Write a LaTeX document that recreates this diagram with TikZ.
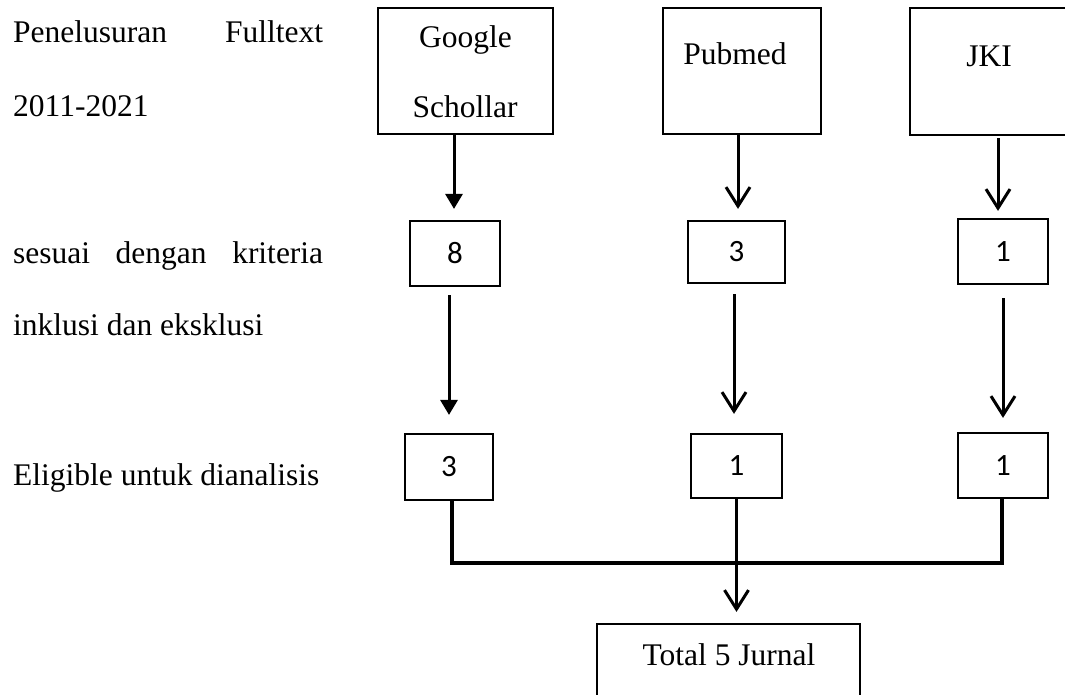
\documentclass[tikz,border=0pt]{standalone}
\usepackage{fontspec}
\setmainfont{Liberation Serif}
\newfontfamily\numfont{Carlito}
\usetikzlibrary{arrows.meta}
\begin{document}
\begin{tikzpicture}[x=1pt,y=-1pt,
  box/.style={draw, line width=2.2pt, inner sep=0pt, rectangle},
  numbox/.style={box, font=\numfont\fontsize{31}{36}\selectfont},
  lbl/.style={inner sep=0pt, font=\fontsize{31.5}{38}\selectfont},
  conn/.style={line width=3pt},
  tri/.style={conn, -{Triangle[length=15pt,width=17pt]}},
  barb/.style={conn, -{Straight Barb[length=19pt,width=24pt]}},
]
\useasboundingbox (0,0) rectangle (1065,695);
\clip (0,0) rectangle (1065,695);
\fill[white] (0,0) rectangle (1065,695);

% left labels
\node[lbl,anchor=base west] (t1) at (13,43) {\makebox[310pt][s]{Penelusuran Fulltext}};
\node[lbl,anchor=base west] (t2) at (13,117) {2011-2021};
\node[lbl,anchor=base west] (t3) at (13,263) {\makebox[310pt][s]{sesuai dengan kriteria}};
\node[lbl,anchor=base west] (t4) at (13,335) {inklusi dan eksklusi};
\node[lbl,anchor=base west] (t5) at (13,485) {Eligible untuk dianalisis};

% top boxes
\node[box, minimum width=175pt, minimum height=126pt] (gs) at (465.5,71) {};
\node[lbl,anchor=base] (gs1) at (465.5,48) {Google};
\node[lbl,anchor=base] (gs2) at (465,118) {Schollar};
\node[box, minimum width=158pt, minimum height=126pt] (pm) at (742,71) {};
\node[lbl,anchor=base] (pmt) at (735,65) {Pubmed};
\node[box, minimum width=170pt, minimum height=127pt] (jk) at (995,71.5) {};
\node[lbl,anchor=base] (jkt) at (989,67) {JKI};

% second row
\node[numbox, minimum width=90pt, minimum height=65pt] (g8) at (455,253.5) {8};
\node[numbox, minimum width=97pt, minimum height=62pt] (p3) at (736.5,252) {3};
\node[numbox, minimum width=90pt, minimum height=65pt] (j1) at (1003,251.5) {1};

% third row
\node[numbox, minimum width=88pt, minimum height=66pt] (g3) at (449,467) {3};
\node[numbox, minimum width=91pt, minimum height=64pt] (p1) at (736.5,466) {1};
\node[numbox, minimum width=90pt, minimum height=65pt] (j1b) at (1003,465.5) {1};

% total
\node[box, minimum width=263pt, minimum height=86pt] (tot) at (728.5,667) {};
\node[lbl,anchor=base] (tott) at (729,665) {Total 5 Jurnal};

% arrows row 1 -> row 2
\draw[tri] ([xshift=-1pt]g8.north |- gs.south) -- ([xshift=-1pt,yshift=11pt]g8.north);
\draw[barb] ([xshift=1.5pt]p3.north |- pm.south) -- ([xshift=1.5pt,yshift=11pt]p3.north);
\draw[barb] ([xshift=-5pt,yshift=-2pt]j1.north |- jk.south) -- ([xshift=-5pt,yshift=7pt]j1.north);

% arrows row 2 -> row 3
\draw[tri] ([yshift=-8pt]g8.south -| g3.north) -- ([yshift=18pt]g3.north);
\draw[barb] ([xshift=-2.5pt,yshift=-10pt]p3.south) -- ([xshift=-2.5pt,yshift=19pt]p1.north);
\draw[barb] ([yshift=-13pt]j1.south) -- ([yshift=14pt]j1b.north);

% joining lines
\coordinate (hl) at (0,563);
\draw[line width=3.5pt] ([xshift=3pt]g3.south) -- ([xshift=3pt]g3.south |- hl) -| ([xshift=-1pt]j1b.south);
\draw[barb] (p1.south) -- ([yshift=11pt]p1.south |- tot.north);
\end{tikzpicture}
\end{document}
